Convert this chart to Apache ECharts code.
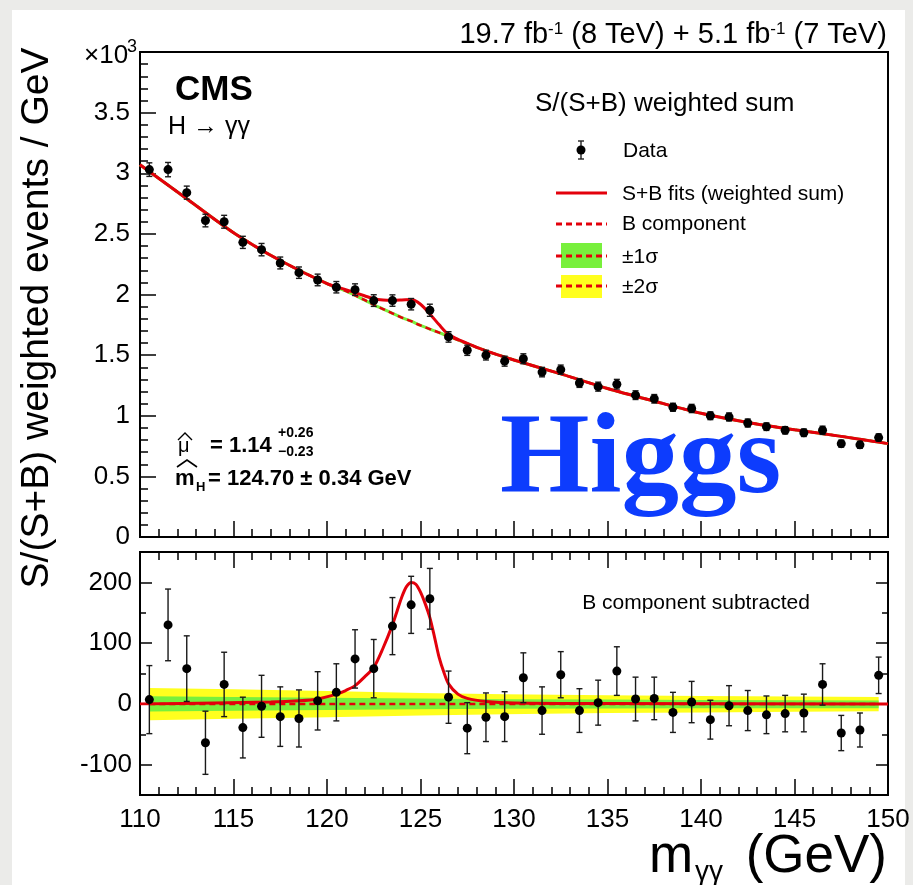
<!DOCTYPE html>
<html>
<head>
<meta charset="utf-8">
<title>CMS H→γγ S/(S+B) weighted sum</title>
<script src="https://cdn.jsdelivr.net/npm/echarts@6/dist/echarts.min.js"></script>
<style>
  html, body { margin: 0; padding: 0; background: #fff; }
  #chart { width: 913px; height: 885px; }
</style>
</head>
<body>
<div id="chart"></div>
<script>
// bin centres, GeV
const massBins = [110.5, 111.5, 112.5, 113.5, 114.5, 115.5, 116.5, 117.5, 118.5, 119.5,
  120.5, 121.5, 122.5, 123.5, 124.5, 125.5, 126.5, 127.5, 128.5, 129.5,
  130.5, 131.5, 132.5, 133.5, 134.5, 135.5, 136.5, 137.5, 138.5, 139.5,
  140.5, 141.5, 142.5, 143.5, 144.5, 145.5, 146.5, 147.5, 148.5, 149.5];

// top pad: weighted events / GeV (x10^3)
const topVals = [3.03, 3.03, 2.84, 2.61, 2.60, 2.43, 2.37, 2.26, 2.18, 2.12,
  2.06, 2.04, 1.95, 1.95, 1.92, 1.87, 1.65, 1.54, 1.50, 1.45,
  1.47, 1.36, 1.38, 1.27, 1.24, 1.26, 1.17, 1.14, 1.07, 1.06,
  1.00, 0.99, 0.94, 0.91, 0.88, 0.86, 0.88, 0.77, 0.76, 0.82];
const topErr = [0.056, 0.059, 0.054, 0.052, 0.053, 0.050, 0.051, 0.049, 0.047, 0.048,
  0.047, 0.048, 0.048, 0.047, 0.047, 0.050, 0.043, 0.042, 0.040, 0.041,
  0.041, 0.039, 0.038, 0.036, 0.037, 0.040, 0.036, 0.035, 0.033, 0.034,
  0.032, 0.033, 0.033, 0.031, 0.030, 0.031, 0.034, 0.029, 0.028, 0.030];

// fit curves in the top pad
const fitX = [110, 112.5, 115, 117.5, 120, 121, 122, 122.5, 123, 123.5, 124, 124.5, 125, 125.5,
  126, 126.5, 127, 127.5, 128.5, 130, 132.5, 135, 137.5, 140, 142.5, 145, 147.5, 150];
const fitB = [3.07, 2.79, 2.51, 2.28, 2.09, 2.03, 1.955, 1.915, 1.88, 1.845, 1.81, 1.78, 1.745, 1.715,
  1.685, 1.655, 1.625, 1.595, 1.535, 1.46, 1.345, 1.225, 1.12, 1.02, 0.945, 0.885, 0.83, 0.77];
const fitSB = [3.07, 2.79, 2.51, 2.28, 2.09, 2.04, 1.99, 1.965, 1.955, 1.953, 1.955, 1.958, 1.92, 1.84,
  1.75, 1.67, 1.63, 1.597, 1.535, 1.46, 1.345, 1.225, 1.12, 1.02, 0.945, 0.885, 0.83, 0.77];

// bottom pad: B component subtracted
const bottomVals = [7, 130, 58, -64, 32, -39, -4, -21, -24, 5,
  19, 74, 58, 128, 163, 173, 11, -40, -22, -21,
  43, -11, 48, -11, 2, 54, 8, 9, -14, 3,
  -26, -3, -11, -18, -16, -15, 32, -48, -43, 47];
const bottomErr = [56, 59, 54, 52, 53, 50, 51, 49, 47, 48,
  47, 48, 48, 47, 47, 50, 43, 42, 40, 41,
  41, 39, 38, 36, 37, 40, 36, 35, 33, 34,
  32, 33, 33, 31, 30, 31, 34, 29, 28, 30];

// signal shape
const sigX = [110, 114, 117, 118.5, 119.5, 120.5, 121, 121.5, 122, 122.5, 123, 123.5, 123.75, 124,
  124.25, 124.5, 124.75, 125, 125.25, 125.5, 125.75, 126, 126.25, 126.5, 127, 127.5, 128.5, 130, 135, 150];
const sigY = [0, 1.5, 3, 5, 8, 16, 22, 30, 44, 60, 92, 130, 153, 176,
  193, 200, 197, 184, 165, 142, 110, 76, 52, 33, 16, 9, 4, 1.5, 0.5, 0];

// uncertainty bands on B
const bandX = [110.5, 115, 120, 125, 129.5, 135, 140, 145, 149.5];
const band2Up = [26, 24, 21, 18, 16, 14, 13, 12, 11.5];
const band2Lo = [-27, -24.5, -22, -19, -17, -15, -14, -13, -12];
const band1Up = [12.5, 11.5, 10, 9, 7.5, 7, 6.5, 6, 5.5];
const band1Lo = [-12.5, -11.5, -10, -9, -8, -7.5, -7, -7, -7];

const bottomMajor = [-100, 0, 100, 200];

const FONT = "'Liberation Sans', Arial, Helvetica, sans-serif";
const RED = '#e3000b';
const GREEN = '#78f03c';
const YELLOW = '#ffff1e';

const chart = echarts.init(document.getElementById('chart'));

const tickStyle = { color: '#000', width: 1.5 };
const frameLine = { show: true, onZero: false, lineStyle: { color: '#000', width: 2 } };

// x axis: major ticks every 5 GeV, minor every 1 GeV
function xAxisDef(gridIndex, position, showLabels) {
  return {
    type: 'value', gridIndex, position, min: 110, max: 150, interval: 5,
    axisLine: frameLine,
    axisTick: { show: true, inside: true, length: 16, lineStyle: tickStyle },
    minorTick: { show: true, splitNumber: 5, length: 8, lineStyle: tickStyle },
    splitLine: { show: false },
    axisLabel: { show: showLabels, fontSize: 26, fontFamily: FONT, color: '#000', margin: 12 }
  };
}

function bottomY(position, major) {
  return {
    type: 'value', gridIndex: 1, position, min: -150, max: 250, interval: 50,
    axisLine: { show: false },
    splitLine: { show: false },
    axisTick: major
      ? { show: true, inside: true, length: 12, lineStyle: tickStyle, customValues: bottomMajor }
      : { show: true, inside: true, length: 6, lineStyle: tickStyle },
    axisLabel: {
      show: major && position === 'left', fontSize: 26, fontFamily: FONT, color: '#000', margin: 8,
      customValues: bottomMajor
    }
  };
}

function errorBars(xIdx, yIdx, vals, errs, cap) {
  return {
    type: 'custom', xAxisIndex: xIdx, yAxisIndex: yIdx, silent: true, z: 5,
    encode: { x: 0, y: [1, 2] },
    data: massBins.map((m, i) => [m, vals[i] - errs[i], vals[i] + errs[i]]),
    renderItem: (params, api) => {
      const lo = api.coord([api.value(0), api.value(1)]);
      const hi = api.coord([api.value(0), api.value(2)]);
      const st = { stroke: '#1a1a1a', lineWidth: 1.4 };
      return {
        type: 'group', children: [
          { type: 'line', shape: { x1: lo[0], y1: lo[1], x2: hi[0], y2: hi[1] }, style: st },
          { type: 'line', shape: { x1: lo[0] - cap, y1: lo[1], x2: lo[0] + cap, y2: lo[1] }, style: st },
          { type: 'line', shape: { x1: hi[0] - cap, y1: hi[1], x2: hi[0] + cap, y2: hi[1] }, style: st }
        ]
      };
    }
  };
}

function bandSeries() {
  return {
    type: 'custom', xAxisIndex: 1, yAxisIndex: 1, silent: true, z: 1,
    data: [[bandX[0], 0]],
    renderItem: (params, api) => {
      const poly = (up, lo) => bandX.map((x, i) => api.coord([x, up[i]]))
        .concat(bandX.map((x, i) => api.coord([x, lo[i]])).reverse());
      return {
        type: 'group', children: [
          { type: 'polygon', shape: { points: poly(band2Up, band2Lo) }, style: { fill: YELLOW } },
          { type: 'polygon', shape: { points: poly(band1Up, band1Lo) }, style: { fill: GREEN } }
        ]
      };
    }
  };
}

function txt(x, y, text, size, extra) {
  return {
    type: 'text', x, y, silent: true,
    style: Object.assign({
      text, fontSize: size, fontFamily: FONT, fill: '#000', align: 'left', verticalAlign: 'middle'
    }, extra || {})
  };
}

const dash = [6, 4];
const legendEls = [
  txt(535, 104, 'S/(S+B) weighted sum', 26),
  { type: 'line', shape: { x1: 581, y1: 141, x2: 581, y2: 159 }, style: { stroke: '#222', lineWidth: 1.4 } },
  { type: 'line', shape: { x1: 578, y1: 141, x2: 584, y2: 141 }, style: { stroke: '#222', lineWidth: 1.4 } },
  { type: 'line', shape: { x1: 578, y1: 159, x2: 584, y2: 159 }, style: { stroke: '#222', lineWidth: 1.4 } },
  { type: 'circle', shape: { cx: 581, cy: 150, r: 4.5 }, style: { fill: '#000' } },
  txt(623, 151, 'Data', 21),
  { type: 'line', shape: { x1: 556, y1: 193, x2: 607, y2: 193 }, style: { stroke: RED, lineWidth: 3 } },
  txt(622, 194, 'S+B fits (weighted sum)', 21),
  { type: 'line', shape: { x1: 556, y1: 224, x2: 607, y2: 224 }, style: { stroke: RED, lineWidth: 3, lineDash: dash } },
  txt(622, 224, 'B component', 21),
  { type: 'rect', shape: { x: 561, y: 243, width: 41, height: 25 }, style: { fill: GREEN } },
  { type: 'line', shape: { x1: 556, y1: 256, x2: 607, y2: 256 }, style: { stroke: RED, lineWidth: 3, lineDash: dash } },
  txt(622, 257, '±1σ', 21),
  { type: 'rect', shape: { x: 561, y: 275, width: 41, height: 23 }, style: { fill: YELLOW } },
  { type: 'line', shape: { x1: 556, y1: 286, x2: 607, y2: 286 }, style: { stroke: RED, lineWidth: 3, lineDash: dash } },
  txt(622, 287, '±2σ', 21)
];

const labelEls = [
  // page frame
  { type: 'rect', shape: { x: 0, y: 0, width: 913, height: 10 }, style: { fill: '#ebebe9' } },
  { type: 'rect', shape: { x: 0, y: 0, width: 12, height: 885 }, style: { fill: '#ebebe9' } },
  { type: 'rect', shape: { x: 905, y: 0, width: 8, height: 885 }, style: { fill: '#ebebe9' } },
  txt(887, 35, '19.7 fb{s|-1} (8 TeV) + 5.1 fb{s|-1} (7 TeV)', 29,
    { align: 'right', rich: { s: { fontSize: 17, fontFamily: FONT, verticalAlign: 'top' } } }),
  txt(84, 56, '×10', 26),
  txt(127, 47, '3', 18),
  txt(175, 90, 'CMS', 35, { fontWeight: 'bold' }),
  txt(168, 127, 'H → γγ', 25),
  {
    type: 'text', x: 37, y: 318, rotation: Math.PI / 2, silent: true,
    style: { text: 'S/(S+B) weighted events / GeV', fontSize: 39, fontFamily: FONT, fill: '#000', align: 'center', verticalAlign: 'middle' }
  },
  // fit results
  { type: 'polyline', shape: { points: [[178, 440], [185, 433], [192, 440]] }, style: { stroke: '#000', lineWidth: 1.4, fill: null } },
  txt(178, 446, 'μ', 20),
  txt(210, 446, '= 1.14', 22, { fontWeight: 'bold' }),
  txt(278, 433, '+0.26', 14, { fontWeight: 'bold' }),
  txt(278, 452, '−0.23', 14, { fontWeight: 'bold' }),
  { type: 'polyline', shape: { points: [[177, 467], [187, 460], [197, 467]] }, style: { stroke: '#000', lineWidth: 1.6, fill: null } },
  txt(175, 479, 'm', 22, { fontWeight: 'bold' }),
  txt(196, 487, 'H', 13, { fontWeight: 'bold' }),
  txt(208, 479, '= 124.70 ± 0.34 GeV', 22, { fontWeight: 'bold' }),
  txt(500, 462, 'Higgs', 115, { fontFamily: "'Liberation Serif', 'Times New Roman', serif", fontWeight: 'bold', fill: '#0d3cfd' }),
  txt(696, 603, 'B component subtracted', 21, { align: 'center' }),
  // x axis title
  txt(649, 857, 'm', 53),
  txt(695, 872, 'γγ', 28),
  txt(887, 857, '(GeV)', 53, { align: 'right' })
];

const option = {
  animation: false,
  backgroundColor: '#ffffff',
  grid: [
    { left: 140, top: 52, width: 748, height: 485, show: true, borderColor: '#000', borderWidth: 2, backgroundColor: 'transparent' },
    { left: 140, top: 552, width: 748, height: 243, show: true, borderColor: '#000', borderWidth: 2, backgroundColor: 'transparent' }
  ],
  xAxis: [
    xAxisDef(0, 'bottom', false),
    xAxisDef(1, 'bottom', true),
    xAxisDef(1, 'top', false)
  ],
  yAxis: [
    {
      type: 'value', gridIndex: 0, min: 0, max: 4, interval: 0.5,
      axisLine: { show: false }, splitLine: { show: false },
      axisTick: { show: true, inside: true, length: 16, lineStyle: tickStyle },
      minorTick: { show: true, splitNumber: 5, length: 8, lineStyle: tickStyle },
      axisLabel: {
        fontSize: 26, fontFamily: FONT, color: '#000', margin: 10,
        formatter: v => (v === 4 ? '' : String(v))
      }
    },
    bottomY('left', true),
    bottomY('left', false),
    bottomY('right', true),
    bottomY('right', false)
  ],
  graphic: { elements: labelEls.concat(legendEls) },
  series: [
    // top pad
    {
      type: 'line', xAxisIndex: 0, yAxisIndex: 0, z: 2, smooth: 0.3, showSymbol: false, silent: true,
      data: fitX.map((x, i) => [x, fitB[i]]), lineStyle: { color: GREEN, width: 3 }
    },
    {
      type: 'line', xAxisIndex: 0, yAxisIndex: 0, z: 3, smooth: 0.3, showSymbol: false, silent: true,
      data: fitX.map((x, i) => [x, fitB[i]]), lineStyle: { color: RED, width: 2.5, type: dash }
    },
    {
      type: 'line', xAxisIndex: 0, yAxisIndex: 0, z: 4, smooth: 0.3, showSymbol: false, silent: true,
      data: fitX.map((x, i) => [x, fitSB[i]]), lineStyle: { color: RED, width: 3 }
    },
    errorBars(0, 0, topVals, topErr, 3),
    {
      type: 'scatter', xAxisIndex: 0, yAxisIndex: 0, z: 6, symbolSize: 9, silent: true,
      itemStyle: { color: '#000', opacity: 1 },
      data: massBins.map((m, i) => [m, topVals[i]])
    },
    // bottom pad
    bandSeries(),
    {
      type: 'line', xAxisIndex: 1, yAxisIndex: 1, z: 2, showSymbol: false, silent: true,
      data: [[bandX[0], 0], [bandX[bandX.length - 1], 0]], lineStyle: { color: RED, width: 2.5, type: dash }
    },
    {
      type: 'line', xAxisIndex: 1, yAxisIndex: 1, z: 3, smooth: 0.3, showSymbol: false, silent: true,
      data: sigX.map((x, i) => [x, sigY[i]]), lineStyle: { color: RED, width: 3 }
    },
    errorBars(1, 1, bottomVals, bottomErr, 3),
    {
      type: 'scatter', xAxisIndex: 1, yAxisIndex: 1, z: 6, symbolSize: 9, silent: true,
      itemStyle: { color: '#000', opacity: 1 },
      data: massBins.map((m, i) => [m, bottomVals[i]])
    }
  ]
};

chart.setOption(option);
</script>
</body>
</html>
